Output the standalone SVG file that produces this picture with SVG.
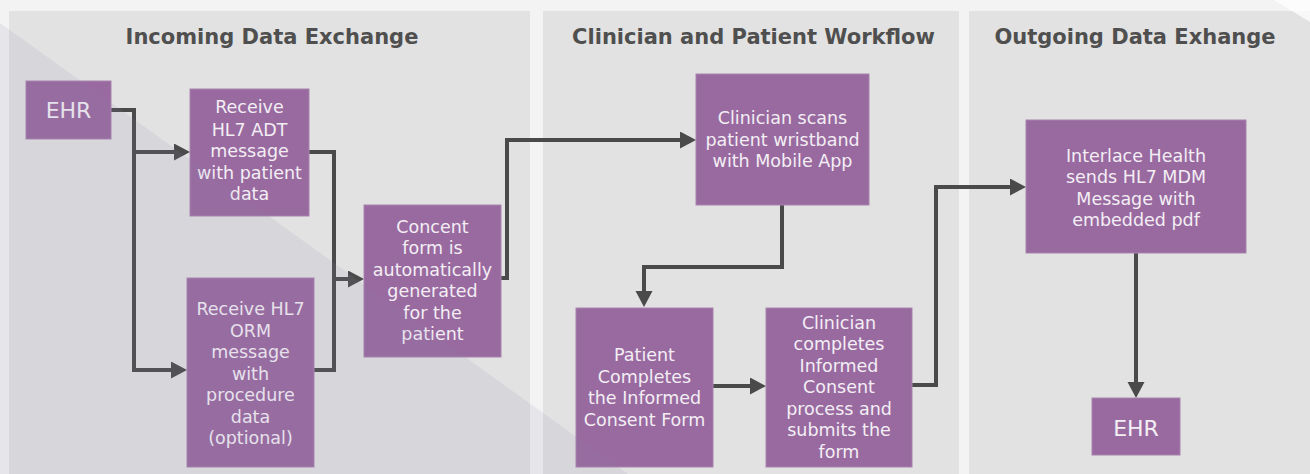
<svg xmlns="http://www.w3.org/2000/svg" width="1310" height="474" viewBox="0 0 1310 474">
  <style>
    .panel { fill: #e2e2e2; }
    .title { font-family: "DejaVu Sans", "Liberation Sans", sans-serif; font-weight: bold; font-size: 21px; fill: #4f4f4f; text-anchor: middle; }
    .box { fill: #996aa0; stroke: #a783ad; stroke-width: 1; }
    .lbl { font-family: "DejaVu Sans", "Liberation Sans", sans-serif; font-size: 17.5px; fill: #f3eef4; text-anchor: middle; }
    .big { font-size: 22px; }
    .conn { fill: none; stroke: #4a4a4a; stroke-width: 4; stroke-linejoin: miter; }
  </style>
  <defs>
    <marker id="head" markerUnits="userSpaceOnUse" markerWidth="17" markerHeight="18" refX="0" refY="8.5" orient="auto">
      <path d="M0,0 L16,8.5 L0,17 Z" fill="#4a4a4a"/>
    </marker>
  </defs>

  <!-- backdrop and swimlanes -->
  <rect x="0" y="0" width="1310" height="474" fill="#f3f3f3"/>
  <rect class="panel" x="9" y="11" width="521" height="463"/>
  <rect class="panel" x="543" y="11" width="416" height="463"/>
  <rect class="panel" x="969" y="11" width="341" height="463"/>
  <polygon points="1274,0 1310,0 1310,22" fill="#ffffff" opacity="0.75"/>

  <text class="title" x="272" y="43.5">Incoming Data Exchange</text>
  <text class="title" x="753.5" y="43.5">Clinician and Patient Workflow</text>
  <text class="title" x="1135" y="43.5">Outgoing Data Exhange</text>

  <!-- connectors -->
  <g id="connectors">
    <path class="conn" d="M111,110 H134 V370 H171" marker-end="url(#head)"/>
    <path class="conn" d="M134,152 H174" marker-end="url(#head)"/>
    <path class="conn" d="M309,152 H334 V279 H348" marker-end="url(#head)"/>
    <path class="conn" d="M314,370 H334 V279"/>
    <path class="conn" d="M501,278 H507 V140 H680" marker-end="url(#head)"/>
    <path class="conn" d="M782,205 V267 H644 V291" marker-end="url(#head)"/>
    <path class="conn" d="M713,386 H750" marker-end="url(#head)"/>
    <path class="conn" d="M912,385 H936 V187 H1010" marker-end="url(#head)"/>
    <path class="conn" d="M1136,253 V382" marker-end="url(#head)"/>
  </g>

  <!-- nodes -->
  <g id="ehr-in">
    <rect class="box" x="26" y="81" width="85" height="58"/>
    <text class="lbl big" x="68.5" y="117.5">EHR</text>
  </g>
  <g id="adt">
    <rect class="box" x="190" y="89" width="119" height="127"/>
    <text class="lbl" x="249.5" y="113">Receive</text>
    <text class="lbl" x="249.5" y="135.5">HL7 ADT</text>
    <text class="lbl" x="249.5" y="157">message</text>
    <text class="lbl" x="249.5" y="178.5">with patient</text>
    <text class="lbl" x="249.5" y="200">data</text>
  </g>
  <g id="orm">
    <rect class="box" x="187" y="278" width="127" height="189"/>
    <text class="lbl" x="250.5" y="315">Receive HL7</text>
    <text class="lbl" x="250.5" y="336.5">ORM</text>
    <text class="lbl" x="250.5" y="358">message</text>
    <text class="lbl" x="250.5" y="379.5">with</text>
    <text class="lbl" x="250.5" y="401">procedure</text>
    <text class="lbl" x="250.5" y="422.5">data</text>
    <text class="lbl" x="250.5" y="444">(optional)</text>
  </g>
  <g id="consent-form">
    <rect class="box" x="364" y="205" width="137" height="152"/>
    <text class="lbl" x="432.5" y="232.5">Concent</text>
    <text class="lbl" x="432.5" y="254">form is</text>
    <text class="lbl" x="432.5" y="275.5">automatically</text>
    <text class="lbl" x="432.5" y="297">generated</text>
    <text class="lbl" x="432.5" y="318.5">for the</text>
    <text class="lbl" x="432.5" y="340">patient</text>
  </g>
  <g id="scan">
    <rect class="box" x="696" y="74" width="173" height="131"/>
    <text class="lbl" x="782.5" y="124">Clinician scans</text>
    <text class="lbl" x="782.5" y="145.5">patient wristband</text>
    <text class="lbl" x="782.5" y="167">with Mobile App</text>
  </g>
  <g id="patient-completes">
    <rect class="box" x="576" y="308" width="137" height="159"/>
    <text class="lbl" x="644.5" y="361">Patient</text>
    <text class="lbl" x="644.5" y="382.5">Completes</text>
    <text class="lbl" x="644.5" y="404">the Informed</text>
    <text class="lbl" x="644.5" y="425.5">Consent Form</text>
  </g>
  <g id="clinician-completes">
    <rect class="box" x="766" y="308" width="146" height="159"/>
    <text class="lbl" x="839" y="328.5">Clinician</text>
    <text class="lbl" x="839" y="350">completes</text>
    <text class="lbl" x="839" y="371.5">Informed</text>
    <text class="lbl" x="839" y="393">Consent</text>
    <text class="lbl" x="839" y="414.5">process and</text>
    <text class="lbl" x="839" y="436">submits the</text>
    <text class="lbl" x="839" y="457.5">form</text>
  </g>
  <g id="mdm">
    <rect class="box" x="1026" y="120" width="220" height="133"/>
    <text class="lbl" x="1136" y="161.5">Interlace Health</text>
    <text class="lbl" x="1136" y="183">sends HL7 MDM</text>
    <text class="lbl" x="1136" y="204.5">Message with</text>
    <text class="lbl" x="1136" y="226">embedded pdf</text>
  </g>
  <g id="ehr-out">
    <rect class="box" x="1092" y="398" width="88" height="57"/>
    <text class="lbl big" x="1136" y="436">EHR</text>
  </g>

  <!-- translucent diagonal sweep across the lower left -->
  <polygon points="0,23 628,474 0,474" fill="#8c87af" opacity="0.12"/>
</svg>
